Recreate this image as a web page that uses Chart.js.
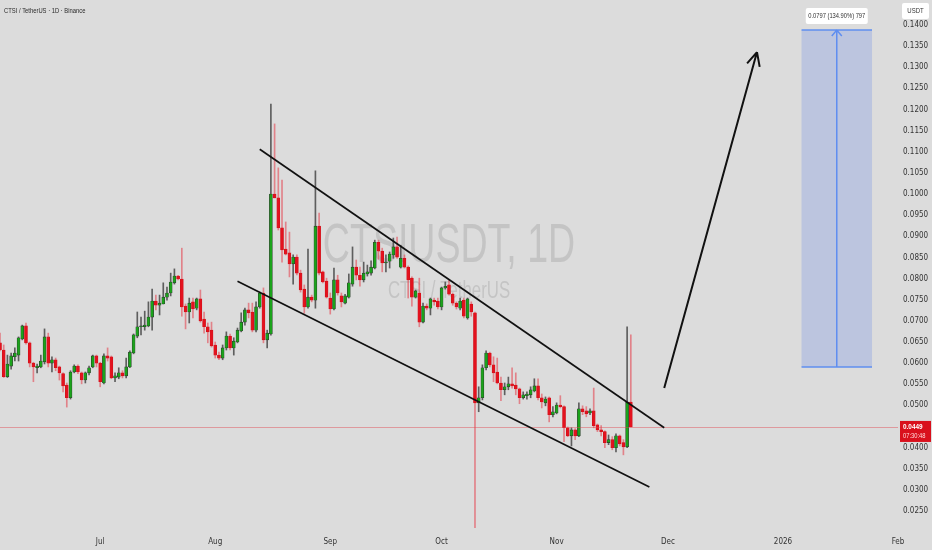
<!DOCTYPE html>
<html>
<head>
<meta charset="utf-8">
<title>CTSIUSDT 1D</title>
<script src="https://cdn.jsdelivr.net/npm/chart.js@4.4.1/dist/chart.umd.min.js"></script>
<style>
  html, body { margin: 0; padding: 0; background: #dcdcdc; }
  #wrap { width: 932px; height: 550px; position: relative; }
</style>
</head>
<body>
<div id="wrap"><canvas id="chart"></canvas></div>
<script>
// daily candles, first one is 2025-06-04
const firstDay = [2025, 5, 4];
const dayCount = 243; // axis runs on to 2026-02-01

const opens = [
  0.0648, 0.0631, 0.0568, 0.0593, 0.0615, 0.0619, 0.0657, 0.0688, 0.0648, 0.0600,
  0.0589, 0.0591, 0.0603, 0.0662, 0.0600, 0.0608, 0.0591, 0.0575, 0.0548, 0.0518,
  0.0579, 0.0593, 0.0577, 0.0560, 0.0577, 0.0591, 0.0617, 0.0600, 0.0553, 0.0617,
  0.0615, 0.0565, 0.0567, 0.0577, 0.0570, 0.0591, 0.0624, 0.0664, 0.0686, 0.0686,
  0.0688, 0.0709, 0.0747, 0.0737, 0.0740, 0.0756, 0.0766, 0.0790, 0.0806, 0.0799,
  0.0735, 0.0721, 0.0745, 0.0730, 0.0752, 0.0704, 0.0686, 0.0678, 0.0643, 0.0619,
  0.0612, 0.0636, 0.0664, 0.0636, 0.0650, 0.0676, 0.0697, 0.0726, 0.0721, 0.0678,
  0.0733, 0.0766, 0.0655, 0.0669, 0.1000, 0.0991, 0.0920, 0.0870, 0.0861, 0.0835,
  0.0851, 0.0813, 0.0775, 0.0733, 0.0756, 0.0749, 0.0924, 0.0816, 0.0794, 0.0754,
  0.0728, 0.0797, 0.0759, 0.0742, 0.0756, 0.0787, 0.0827, 0.0808, 0.0797, 0.0811,
  0.0813, 0.0825, 0.0886, 0.0865, 0.0837, 0.0841, 0.0856, 0.0875, 0.0827, 0.0848,
  0.0827, 0.0801, 0.0756, 0.0766, 0.0697, 0.0735, 0.0730, 0.0749, 0.0747, 0.0733,
  0.0778, 0.0785, 0.0763, 0.0742, 0.0730, 0.0749, 0.0707, 0.0740, 0.0719, 0.0506,
  0.0518, 0.0589, 0.0624, 0.0596, 0.0579, 0.0553, 0.0537, 0.0544, 0.0551, 0.0548,
  0.0539, 0.0518, 0.0523, 0.0525, 0.0534, 0.0546, 0.0518, 0.0506, 0.0518, 0.0478,
  0.0482, 0.0501, 0.0497, 0.0447, 0.0428, 0.0442, 0.0428, 0.0492, 0.0487, 0.0482,
  0.0487, 0.0454, 0.0442, 0.0438, 0.0412, 0.0419, 0.0400, 0.0428, 0.0412, 0.0402,
  0.0508
];
const highs = [
  0.0671, 0.0643, 0.0619, 0.0624, 0.0636, 0.0662, 0.0690, 0.0695, 0.0650, 0.0602,
  0.0598, 0.0619, 0.0681, 0.0671, 0.0615, 0.0612, 0.0593, 0.0577, 0.0553, 0.0582,
  0.0596, 0.0596, 0.0579, 0.0579, 0.0593, 0.0619, 0.0619, 0.0602, 0.0622, 0.0636,
  0.0617, 0.0577, 0.0589, 0.0582, 0.0612, 0.0629, 0.0669, 0.0721, 0.0709, 0.0723,
  0.0745, 0.0775, 0.0761, 0.0761, 0.0790, 0.0780, 0.0813, 0.0823, 0.0808, 0.0872,
  0.0740, 0.0754, 0.0754, 0.0754, 0.0773, 0.0721, 0.0695, 0.0697, 0.0650, 0.0626,
  0.0643, 0.0674, 0.0669, 0.0660, 0.0683, 0.0719, 0.0730, 0.0742, 0.0742, 0.0745,
  0.0768, 0.0778, 0.0678, 0.1213, 0.1166, 0.1062, 0.1033, 0.0934, 0.0910, 0.0856,
  0.0856, 0.0820, 0.0785, 0.0870, 0.0761, 0.1055, 0.0955, 0.0818, 0.0801, 0.0766,
  0.0825, 0.0808, 0.0766, 0.0763, 0.0811, 0.0875, 0.0844, 0.0827, 0.0839, 0.0832,
  0.0842, 0.0891, 0.0891, 0.0872, 0.0856, 0.0863, 0.0896, 0.0898, 0.0879, 0.0856,
  0.0830, 0.0804, 0.0773, 0.0801, 0.0742, 0.0740, 0.0754, 0.0754, 0.0754, 0.0780,
  0.0792, 0.0797, 0.0766, 0.0745, 0.0754, 0.0754, 0.0754, 0.0745, 0.0721, 0.0544,
  0.0596, 0.0629, 0.0626, 0.0615, 0.0612, 0.0567, 0.0553, 0.0567, 0.0589, 0.0577,
  0.0541, 0.0532, 0.0532, 0.0544, 0.0563, 0.0563, 0.0527, 0.0520, 0.0520, 0.0497,
  0.0506, 0.0523, 0.0499, 0.0449, 0.0447, 0.0445, 0.0506, 0.0499, 0.0497, 0.0492,
  0.0541, 0.0456, 0.0452, 0.0440, 0.0430, 0.0426, 0.0433, 0.0430, 0.0419, 0.0686,
  0.0667
];
const lows = [
  0.0629, 0.0566, 0.0566, 0.0586, 0.0605, 0.0605, 0.0655, 0.0645, 0.0591, 0.0556,
  0.0577, 0.0589, 0.0598, 0.0591, 0.0579, 0.0582, 0.0560, 0.0532, 0.0496, 0.0515,
  0.0577, 0.0575, 0.0551, 0.0553, 0.0572, 0.0589, 0.0591, 0.0544, 0.0551, 0.0605,
  0.0563, 0.0556, 0.0563, 0.0565, 0.0565, 0.0589, 0.0622, 0.0660, 0.0667, 0.0678,
  0.0686, 0.0678, 0.0726, 0.0714, 0.0740, 0.0749, 0.0759, 0.0787, 0.0797, 0.0711,
  0.0681, 0.0695, 0.0707, 0.0726, 0.0697, 0.0671, 0.0648, 0.0638, 0.0612, 0.0608,
  0.0608, 0.0631, 0.0631, 0.0619, 0.0648, 0.0674, 0.0690, 0.0707, 0.0674, 0.0674,
  0.0730, 0.0648, 0.0636, 0.0666, 0.0991, 0.0915, 0.0839, 0.0856, 0.0804, 0.0787,
  0.0809, 0.0768, 0.0718, 0.0730, 0.0745, 0.0730, 0.0809, 0.0790, 0.0754, 0.0716,
  0.0726, 0.0761, 0.0733, 0.0740, 0.0754, 0.0782, 0.0797, 0.0782, 0.0792, 0.0806,
  0.0808, 0.0823, 0.0846, 0.0816, 0.0816, 0.0825, 0.0848, 0.0848, 0.0825, 0.0825,
  0.0754, 0.0735, 0.0754, 0.0686, 0.0695, 0.0726, 0.0714, 0.0737, 0.0728, 0.0726,
  0.0775, 0.0761, 0.0737, 0.0728, 0.0726, 0.0707, 0.0704, 0.0711, 0.0205, 0.0485,
  0.0513, 0.0584, 0.0591, 0.0556, 0.0551, 0.0511, 0.0525, 0.0537, 0.0541, 0.0525,
  0.0504, 0.0515, 0.0515, 0.0518, 0.0532, 0.0513, 0.0494, 0.0499, 0.0461, 0.0473,
  0.0480, 0.0494, 0.0414, 0.0426, 0.0404, 0.0419, 0.0426, 0.0478, 0.0473, 0.0478,
  0.0447, 0.0438, 0.0428, 0.0400, 0.0407, 0.0395, 0.0390, 0.0404, 0.0383, 0.0400,
  0.0449
];
const closes = [
  0.0631, 0.0568, 0.0598, 0.0617, 0.0624, 0.0660, 0.0688, 0.0648, 0.0600, 0.0591,
  0.0593, 0.0605, 0.0662, 0.0600, 0.0608, 0.0589, 0.0577, 0.0546, 0.0518, 0.0579,
  0.0593, 0.0579, 0.0560, 0.0577, 0.0589, 0.0617, 0.0600, 0.0556, 0.0617, 0.0612,
  0.0565, 0.0570, 0.0577, 0.0570, 0.0591, 0.0626, 0.0667, 0.0686, 0.0688, 0.0690,
  0.0709, 0.0747, 0.0737, 0.0742, 0.0756, 0.0766, 0.0792, 0.0806, 0.0799, 0.0733,
  0.0721, 0.0742, 0.0728, 0.0752, 0.0700, 0.0686, 0.0674, 0.0641, 0.0619, 0.0612,
  0.0636, 0.0664, 0.0636, 0.0652, 0.0678, 0.0697, 0.0726, 0.0719, 0.0678, 0.0733,
  0.0766, 0.0655, 0.0671, 0.1000, 0.0991, 0.0920, 0.0868, 0.0858, 0.0835, 0.0851,
  0.0813, 0.0773, 0.0733, 0.0756, 0.0749, 0.0924, 0.0813, 0.0792, 0.0756, 0.0728,
  0.0797, 0.0766, 0.0745, 0.0759, 0.0790, 0.0827, 0.0808, 0.0797, 0.0813, 0.0816,
  0.0827, 0.0886, 0.0865, 0.0837, 0.0839, 0.0858, 0.0875, 0.0851, 0.0848, 0.0827,
  0.0797, 0.0756, 0.0771, 0.0697, 0.0735, 0.0730, 0.0752, 0.0745, 0.0733, 0.0778,
  0.0782, 0.0763, 0.0742, 0.0733, 0.0747, 0.0711, 0.0752, 0.0721, 0.0506, 0.0518,
  0.0589, 0.0624, 0.0596, 0.0577, 0.0553, 0.0537, 0.0544, 0.0551, 0.0546, 0.0539,
  0.0518, 0.0525, 0.0527, 0.0537, 0.0546, 0.0518, 0.0508, 0.0515, 0.0478, 0.0485,
  0.0501, 0.0497, 0.0447, 0.0428, 0.0442, 0.0428, 0.0492, 0.0485, 0.0480, 0.0487,
  0.0452, 0.0442, 0.0438, 0.0412, 0.0419, 0.0400, 0.0428, 0.0409, 0.0402, 0.0508,
  0.0449
];

const yTicks = [
  0.0250, 0.0300, 0.0350, 0.0400, 0.0450, 0.0500, 0.0550, 0.0600, 0.0650, 0.0700,
  0.0750, 0.0800, 0.0850, 0.0900, 0.0950, 0.1000, 0.1050, 0.1100, 0.1150, 0.1200,
  0.1250, 0.1300, 0.1350, 0.1400
];
const monthNames = ['Jan', 'Feb', 'Mar', 'Apr', 'May', 'Jun', 'Jul', 'Aug', 'Sep', 'Oct', 'Nov', 'Dec'];

// drawings on top of the candles
const wedgeUpper = [['2025-08-13', 0.1106], ['2025-11-30', 0.0447]];
const wedgeLower = [['2025-08-07', 0.0794], ['2025-11-26', 0.0307]];
const targetArrow = [['2025-11-30', 0.0541], ['2025-12-25', 0.1336]];
const projFrom = '2026-01-06';
const projTo = '2026-01-25';
const projLow = 0.0591;
const projHigh = 0.1388;
const projText = '0.0797 (134.90%) 797';
const lastPrice = 0.0449;
const countdown = '07:30:48';

const categories = [];
for (let i = 0; i < dayCount; i++) {
  const d = new Date(Date.UTC(firstDay[0], firstDay[1], firstDay[2] + i));
  categories.push(d.toISOString().slice(0, 10));
}

const UP = '#1ba31b', DOWN = '#e3121e';
const isUp = closes.map((c, i) => c >= opens[i]);
const wickData = lows.map((l, i) => [l, highs[i]]);
const bodyData = opens.map((o, i) => [o, closes[i]]);

const tickFont = { family: "'Liberation Sans Narrow', 'DejaVu Sans Condensed', 'Liberation Sans', sans-serif", size: 8 };

// text squeezed sideways, the screenshot is narrow
function squished(ctx, text, x, y, size, sx, align, color, weight) {
  ctx.save();
  ctx.font = (weight || 'normal') + ' ' + size + "px 'Liberation Sans', Arial, sans-serif";
  ctx.fillStyle = color;
  ctx.textBaseline = 'middle';
  const w = ctx.measureText(text).width * sx;
  let left = x;
  if (align === 'center') left = x - w / 2;
  if (align === 'right') left = x - w;
  ctx.translate(left, y);
  ctx.scale(sx, 1);
  ctx.textAlign = 'left';
  ctx.fillText(text, 0, 0);
  ctx.restore();
}

function roundBox(ctx, x, y, w, h, r, fill) {
  ctx.beginPath();
  ctx.roundRect(x, y, w, h, r);
  ctx.fillStyle = fill;
  ctx.fill();
}

const overlay = {
  id: 'overlay',
  beforeDraw(chart) {
    const ctx = chart.ctx;
    ctx.save();
    ctx.fillStyle = '#dcdcdc';
    ctx.fillRect(0, 0, chart.width, chart.height);
    ctx.restore();
  },
  beforeDatasetsDraw(chart) {
    const { ctx, chartArea: a } = chart;
    const cx = (a.left + a.right) / 2;
    const cy = (a.top + a.bottom) / 2;
    squished(ctx, 'CTSIUSDT, 1D', cx, cy - 17, 56, 0.67, 'center', 'rgba(150,150,150,0.33)');
    squished(ctx, 'CTSI / TetherUS', cx, cy + 28, 23, 0.73, 'center', 'rgba(150,150,150,0.33)');
  },
  afterDatasetsDraw(chart) {
    const { ctx, chartArea: a } = chart;
    const xs = chart.scales.x, ys = chart.scales.y;
    const px = d => xs.getPixelForValue(categories.indexOf(d));
    const py = p => ys.getPixelForValue(p);

    ctx.save();
    ctx.beginPath();
    ctx.rect(a.left, a.top, a.right - a.left, a.bottom - a.top);
    ctx.clip();

    // last price line
    ctx.strokeStyle = 'rgba(225,70,80,0.45)';
    ctx.lineWidth = 1;
    ctx.beginPath();
    ctx.moveTo(a.left, Math.round(py(lastPrice)) + 0.5);
    ctx.lineTo(a.right, Math.round(py(lastPrice)) + 0.5);
    ctx.stroke();

    // falling wedge
    ctx.strokeStyle = '#111';
    ctx.lineWidth = 1.7;
    [wedgeUpper, wedgeLower].forEach(ln => {
      ctx.beginPath();
      ctx.moveTo(px(ln[0][0]), py(ln[0][1]));
      ctx.lineTo(px(ln[1][0]), py(ln[1][1]));
      ctx.stroke();
    });

    // breakout arrow
    const x0 = px(targetArrow[0][0]), y0 = py(targetArrow[0][1]);
    const x1 = px(targetArrow[1][0]), y1 = py(targetArrow[1][1]);
    ctx.lineWidth = 2;
    ctx.beginPath();
    ctx.moveTo(x0, y0);
    ctx.lineTo(x1, y1);
    const ang = Math.atan2(y1 - y0, x1 - x0);
    [0.45, -0.45].forEach(t => {
      ctx.moveTo(x1, y1);
      ctx.lineTo(x1 - 15 * Math.cos(ang + t), y1 - 15 * Math.sin(ang + t));
    });
    ctx.stroke();

    // projection box
    const bl = px(projFrom), br = px(projTo);
    const bt = py(projHigh), bb = py(projLow);
    const bc = (bl + br) / 2;
    ctx.fillStyle = 'rgba(120,150,230,0.32)';
    ctx.fillRect(bl, bt, br - bl, bb - bt);
    ctx.strokeStyle = '#5f8ef0';
    ctx.lineWidth = 1.5;
    ctx.beginPath();
    ctx.moveTo(bl, bt); ctx.lineTo(br, bt);
    ctx.moveTo(bl, bb); ctx.lineTo(br, bb);
    ctx.moveTo(bc, bb); ctx.lineTo(bc, bt);
    ctx.moveTo(bc - 5, bt + 6); ctx.lineTo(bc, bt); ctx.lineTo(bc + 5, bt + 6);
    ctx.stroke();
    ctx.restore();

    roundBox(ctx, bc - 31, bt - 22, 62, 16, 2, '#ffffff');
    squished(ctx, projText, bc, bt - 14, 8, 0.72, 'center', '#333333');
  },
  afterDraw(chart) {
    const { ctx, chartArea: a } = chart;
    const ys = chart.scales.y;
    squished(ctx, 'CTSI / TetherUS \u00b7 1D \u00b7 Binance', 4, 11, 8, 0.73, 'left', '#2a2a2a');

    roundBox(ctx, a.right + 4, 3, 27, 16, 2, '#ffffff');
    squished(ctx, 'USDT', a.right + 17.5, 11, 8, 0.75, 'center', '#333333');

    const y = ys.getPixelForValue(lastPrice);
    ctx.fillStyle = '#d9101c';
    ctx.fillRect(a.right + 2, y - 6, 31, 21);
    squished(ctx, lastPrice.toFixed(4), a.right + 5, y, 8, 0.8, 'left', '#ffffff', 'bold');
    squished(ctx, countdown, a.right + 5, y + 9, 8, 0.72, 'left', '#ffdada');
  }
};

new Chart(document.getElementById('chart'), {
  type: 'bar',
  data: {
    labels: categories,
    datasets: [
      {
        label: 'wick',
        data: wickData,
        backgroundColor: isUp.map(u => (u ? '#5e5e5e' : 'rgba(228,70,82,0.6)')),
        barThickness: 1,
        grouped: false,
        order: 2
      },
      {
        label: 'body',
        data: bodyData,
        backgroundColor: isUp.map(u => (u ? UP : DOWN)),
        borderColor: isUp.map(u => (u ? '#2c3a2c' : '#d01019')),
        borderWidth: 0.6,
        borderSkipped: false,
        barThickness: 3,
        minBarLength: 1,
        grouped: false,
        order: 1
      }
    ]
  },
  options: {
    responsive: true,
    maintainAspectRatio: false,
    animation: false,
    layout: { padding: 0 },
    plugins: { legend: { display: false }, tooltip: { enabled: false } },
    scales: {
      x: {
        offset: false,
        grid: { display: false, drawTicks: false },
        border: { display: false },
        ticks: {
          autoSkip: false,
          maxRotation: 0,
          padding: 9,
          color: '#333333',
          font: tickFont,
          callback(value) {
            const s = categories[value];
            if (!s || s.slice(8) !== '01') return null;
            const m = Number(s.slice(5, 7));
            return m === 1 ? s.slice(0, 4) : monthNames[m - 1];
          }
        },
        afterFit(s) { s.height = 22; s.paddingLeft = 0; s.paddingRight = 0; }
      },
      y: {
        position: 'right',
        min: 0.02099,
        max: 0.14592,
        grid: { display: false, drawTicks: false },
        border: { display: false },
        ticks: {
          padding: 5,
          color: '#333333',
          font: tickFont,
          callback: v => Number(v).toFixed(4)
        },
        afterBuildTicks(s) { s.ticks = yTicks.map(v => ({ value: v })); },
        afterFit(s) { s.width = 34; s.paddingTop = 0; s.paddingBottom = 0; }
      }
    }
  },
  plugins: [overlay]
});
</script>
</body>
</html>
